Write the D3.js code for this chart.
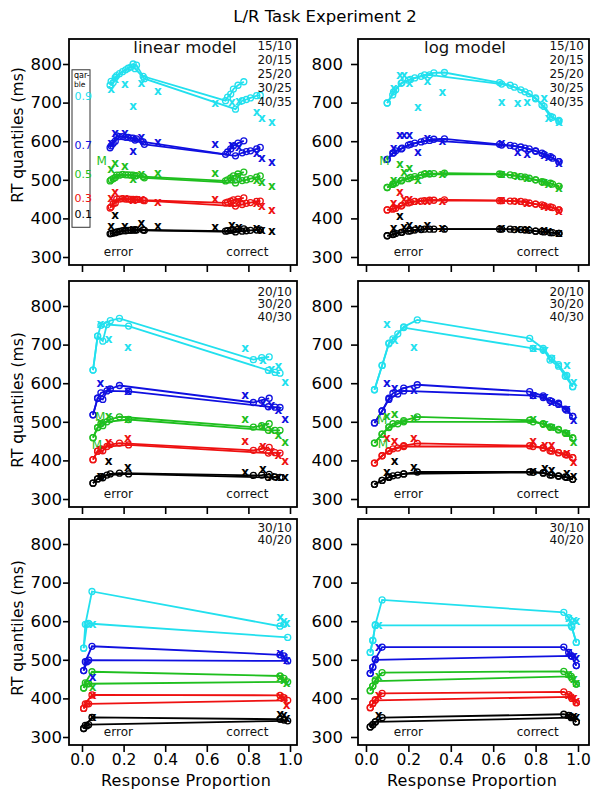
<!DOCTYPE html>
<html><head><meta charset="utf-8">
<script src="https://cdn.jsdelivr.net/npm/d3@7"></script>
<style>body{margin:0;background:#fff} svg{display:block}</style>
</head><body><svg id="c" width="602" height="796"></svg>
<script>
// ---------- data ----------
const quantiles = ["0.1","0.3","0.5","0.7","0.9"];
const qColors = ["#000000","#ee1111","#1fbf1f","#1010e0","#22e0ee"];
const yTicks = [300,400,500,600,700,800];
const xTicks = [0,0.2,0.4,0.6,0.8,1.0];
const modelNames = ["linear model","log model"];
const rowConditions = [["15/10","20/15","25/20","30/25","40/35"],["20/10","30/20","40/30"],["30/10","40/20"]];
const legendRT = [411, 453, 515, 590, 717];

// Row 1, linear model: model lines (p) and RT [line][quantile][point]
const r1LinP = [
  [0.135,0.15,0.167,0.195,0.222,0.246,0.262,0.294,0.69,0.70,0.715,0.728,0.75,0.778],
  [0.14,0.16,0.18,0.21,0.235,0.255,0.30,0.738,0.77,0.79,0.81,0.84,0.857]];
const r1LinRT = [
  [[360,362,365,368,369,370,370,370,367,368,369,370,372,373],
   [427,438,450,451,450,449,449,447,440,442,445,448,450,453],
   [497,503,512,514,513,512,511,508,497,500,505,510,515,520],
   [583,595,614,612,610,608,606,598,566,572,580,588,595,601],
   [745,752,770,780,789,800,797,768,705,714,722,735,745,754]],
  [[361,363,366,368,369,370,369,365,367,368,369,370,370],
   [430,440,450,450,449,448,446,432,436,439,441,444,445],
   [500,506,512,513,512,510,505,492,498,500,503,507,510],
   [588,600,612,610,608,603,592,562,570,573,575,580,584],
   [755,765,775,785,792,788,762,683,705,708,712,718,719]]];
const r1LinDataP = [0.14,0.159,0.206,0.246,0.286,0.365,0.64,0.72,0.754,0.84,0.865,0.913];
const r1LinDataRT = [
  [380,410,380,372,387,380,378,384,378,374,371,367],
  [453,468,453,448,450,442,449,440,445,440,433,421],
  [527,544,536,501,515,517,517,505,510,500,494,484],
  [596,621,621,575,610,598,594,590,585,570,557,546],
  [735,761,748,690,752,729,700,702,705,676,659,650]];
const r1LinMP = [0.095], r1LinMRT = [549];

// Row 1, log model
const r1LogP = [
  [0.10,0.126,0.14,0.166,0.20,0.23,0.276,0.32,0.37,0.63,0.68,0.73,0.77,0.80,0.83,0.87,0.91],
  [0.10,0.13,0.17,0.21,0.26,0.30,0.64,0.70,0.75,0.80,0.84,0.88,0.91]];
const r1LogRT = [
  [[355,358,361,364,367,370,372,372,372,372,372,371,369,367,366,363,361],
   [422,424,426,432,440,444,446,447,448,446,445,444,440,437,435,430,422],
   [480,488,492,497,503,508,515,516,517,515,513,508,504,500,495,491,483],
   [553,569,575,580,590,595,601,605,606,592,589,585,580,575,569,560,547],
   [699,720,733,750,758,764,772,777,778,752,745,733,723,712,694,664,651]],
  [[355,359,364,368,371,372,372,371,370,367,365,363,361],
   [422,426,434,442,445,447,446,445,442,437,433,428,422],
   [480,490,499,506,512,515,514,511,507,500,494,489,483],
   [553,570,582,592,598,602,590,587,582,574,566,556,547],
   [699,728,752,760,768,772,748,740,728,710,690,662,654]]];
const r1LogDataP = [0.13,0.16,0.18,0.205,0.245,0.29,0.36,0.64,0.715,0.76,0.84,0.86,0.91];
const r1LogDataRT = [
  [374,406,378,383,375,383,375,376,373,372,370,368,362],
  [440,468,449,451,445,446,445,447,445,440,433,430,420],
  [500,540,521,530,500,517,515,515,510,505,495,490,480],
  [582,615,615,615,572,608,601,595,573,566,565,560,543],
  [738,772,772,751,688,755,727,701,699,701,713,660,649]];
const r1LogMP = [0.087], r1LogMRT = [549];

// Row 2, linear model
const r2LinP = [
  [0.053,0.075,0.091,0.136,0.18,0.824,0.864,0.90],
  [0.053,0.075,0.10,0.12,0.224,0.896,0.928,0.952]];
const r2LinRT = [
  [[341,352,358,365,367,361,362,364],
   [402,424,430,441,445,426,430,434],
   [459,485,495,506,513,486,490,495],
   [518,561,575,585,594,550,556,561],
   [634,722,750,762,768,661,666,668]],
  [[341,352,355,362,365,356,357,356],
   [402,424,425,436,440,419,420,419],
   [459,485,490,500,506,478,478,478],
   [518,561,558,580,579,539,538,537],
   [634,722,709,752,748,633,628,626]]];
const r2LinDataP = [0.088,0.128,0.22,0.784,0.87,0.91,0.944,0.976];
const r2LinDataRT = [
  [360,398,382,371,378,360,358,356],
  [430,448,459,450,437,425,415,398],
  [500,515,506,506,490,480,467,447],
  [601,585,579,570,550,544,530,506],
  [753,715,694,691,661,637,644,604]];
const r2LinMP = [0.088,0.072], r2LinMRT = [515,440];

// Row 2, log model
const r2LogP = [
  [0.04,0.076,0.108,0.127,0.178,0.242,0.772,0.836,0.868,0.908,0.94,0.975],
  [0.04,0.076,0.108,0.15,0.178,0.788,0.836,0.876,0.908,0.947,0.975]];
const r2LogRT = [
  [[338,348,357,360,365,370,370,368,362,360,357,351],
   [393,412,425,430,438,444,438,433,425,420,415,407],
   [445,468,487,495,503,513,504,495,487,480,471,458],
   [497,528,561,574,587,596,578,567,555,548,533,514],
   [583,646,704,715,746,764,716,690,660,644,618,591]],
  [[338,348,356,362,365,369,367,362,359,356,351],
   [393,412,424,432,436,436,432,424,420,414,407],
   [445,468,485,495,500,500,494,486,479,470,458],
   [497,528,558,572,580,568,563,553,545,530,514],
   [583,646,702,728,744,690,686,665,648,620,591]]];
const r2LogDataP = [0.099,0.135,0.226,0.788,0.844,0.876,0.947,0.979];
const r2LogDataRT = [
  [370,398,384,372,380,375,368,359],
  [458,449,459,449,440,440,418,397],
  [514,521,510,506,495,487,470,447],
  [600,587,583,570,565,552,533,505],
  [753,712,693,690,686,665,647,604]];
const r2LogMP = [0.076,0.08], r2LogMRT = [505,443];

// Row 3, linear model
const r3LinP = [
  [0.008,0.016,0.048,0.952,0.971],
  [0.008,0.024,0.032,0.989]];
const r3LinRT = [
  [[322,330,351,346,344],
   [374,386,409,408,402],
   [427,440,469,458,452],
   [472,495,535,513,510],
   [530,592,677,587,592]],
  [[322,329,332,342],
   [374,386,386,395],
   [427,438,438,443],
   [472,495,499,497],
   [530,592,594,558]]];
const r3LinDataP = [0.051,0.952,0.971,0.984];
const r3LinDataRT = [
  [353,360,356,350],
  [408,405,400,383],
  [430,455,448,440],
  [456,517,508,500],
  [593,611,600,596]];

// Row 3, log model
const r3LogP = [
  [0.02,0.032,0.044,0.076,0.933,0.956,0.971,0.992],
  [0.02,0.032,0.044,0.968,0.992]];
const r3LogRT = [
  [[326,332,339,350,359,356,352,339],
   [376,387,397,413,417,410,400,389],
   [420,432,448,467,470,461,452,437],
   [465,481,502,533,533,519,510,485],
   [519,550,591,655,623,609,585,545]],
  [[326,332,339,350,339],
   [376,387,395,404,389],
   [420,432,445,457,437],
   [465,481,500,510,485],
   [519,550,589,589,545]]];
const r3LogDataP = [0.06,0.956,0.98,0.992];
const r3LogDataRT = [
  [357,358,355,352],
  [409,410,402,392],
  [458,462,450,440],
  [533,520,510,505],
  [590,607,603,600]];

// ---------- layout ----------
const panels = [
  {row:0,col:0,P:r1LinP,RT:r1LinRT,DP:r1LinDataP,DRT:r1LinDataRT,MP:r1LinMP,MRT:r1LinMRT},
  {row:0,col:1,P:r1LogP,RT:r1LogRT,DP:r1LogDataP,DRT:r1LogDataRT,MP:r1LogMP,MRT:r1LogMRT},
  {row:1,col:0,P:r2LinP,RT:r2LinRT,DP:r2LinDataP,DRT:r2LinDataRT,MP:r2LinMP,MRT:r2LinMRT},
  {row:1,col:1,P:r2LogP,RT:r2LogRT,DP:r2LogDataP,DRT:r2LogDataRT,MP:r2LogMP,MRT:r2LogMRT},
  {row:2,col:0,P:r3LinP,RT:r3LinRT,DP:r3LinDataP,DRT:r3LinDataRT,MP:[],MRT:[]},
  {row:2,col:1,P:r3LogP,RT:r3LogRT,DP:r3LogDataP,DRT:r3LogDataRT,MP:[],MRT:[]}
];
const rowTop = [39, 281, 519];
const PH = 226;
const colFrame = [[69, 297], [358, 589]];
const colRange = [[82, 290], [366, 578]];
const condStart = [6, 10, 8], condStep = [14, 12.7, 12.7];
const ecP = [[0.175, 0.795], [0.2, 0.81]];
const FONT = "DejaVu Sans, Verdana, sans-serif";

const svg = d3.select("#c");
svg.append("rect").attr("width",602).attr("height",796).attr("fill","#fff");

svg.append("text").attr("x",325).attr("y",22).attr("text-anchor","middle")
  .attr("font-family",FONT).attr("font-size",16.5).text("L/R Task Experiment 2");

const yLabelC = [135, 400, 628];

panels.forEach((pn, idx) => {
  const t = rowTop[pn.row];
  const [fl, fr] = colFrame[pn.col];
  const x = d3.scaleLinear().domain([0,1]).range(colRange[pn.col]);
  const y = d3.scaleLinear().domain([300,800]).range([t+218, t+25]);
  const g = svg.append("g");

  const clipId = "clip"+idx;
  svg.append("clipPath").attr("id",clipId).append("rect")
    .attr("x",fl).attr("y",t).attr("width",fr-fl).attr("height",PH);

  // y axis
  const ya = g.append("g").attr("transform",`translate(${fl},0)`)
    .call(d3.axisLeft(y).tickValues(yTicks).tickSize(pn.col ? 7 : 6).tickPadding(pn.col ? 8 : 1).tickFormat(d3.format("d")));
  ya.select(".domain").remove();
  ya.selectAll("line").attr("stroke","#000").attr("stroke-width",1.6);
  ya.selectAll("text").attr("font-family",FONT).attr("font-size",16.5).attr("fill","#000");

  // x axis
  const xa = g.append("g").attr("transform",`translate(0,${t+PH})`)
    .call(d3.axisBottom(x).tickValues(xTicks).tickSize(7).tickPadding(2)
      .tickFormat(pn.row === 2 ? d3.format(".1f") : () => ""));
  xa.select(".domain").remove();
  xa.selectAll("line").attr("stroke","#000").attr("stroke-width",1.6);
  xa.selectAll("text").attr("font-family",FONT).attr("font-size",15.5).attr("fill","#000");

  // content
  const c = g.append("g").attr("clip-path",`url(#${clipId})`);
  quantiles.forEach((q, qi) => {
    pn.P.forEach((ps, li) => {
      const pts = ps.map((p, i) => [p, pn.RT[li][qi][i]]);
      c.append("path").datum(pts)
        .attr("d", d3.line().x(d => x(d[0])).y(d => y(d[1])))
        .attr("fill","none").attr("stroke",qColors[qi]).attr("stroke-width",1.8);
      c.selectAll(null).data(pts).enter().append("circle")
        .attr("cx", d => x(d[0])).attr("cy", d => y(d[1])).attr("r",3)
        .attr("fill","none").attr("stroke",qColors[qi]).attr("stroke-width",1.3);
    });
  });
  quantiles.forEach((q, qi) => {
    c.selectAll(null).data(pn.DP.map((p,i) => [p, pn.DRT[qi][i]])).enter().append("text")
      .attr("x", d => x(d[0])).attr("y", d => y(d[1]) + 4)
      .attr("text-anchor","middle").attr("font-family",FONT).attr("font-size",12)
      .attr("font-weight","bold").attr("fill",qColors[qi]).text("x");
  });
  c.selectAll(null).data(pn.MP.map((p,i) => [p, pn.MRT[i]])).enter().append("text")
    .attr("x", d => x(d[0])).attr("y", d => y(d[1]) + 4.5)
    .attr("text-anchor","middle").attr("font-family",FONT).attr("font-size",12)
    .attr("fill",qColors[2]).text("M");

  // frame
  g.append("rect").attr("x",fl).attr("y",t).attr("width",fr-fl).attr("height",PH)
    .attr("fill","none").attr("stroke","#000").attr("stroke-width",1.8);

  // condition labels
  rowConditions[pn.row].forEach((s, i) => {
    g.append("text").attr("x", fr-5).attr("y", t + condStart[pn.row] + i*condStep[pn.row] + 4.5)
      .attr("text-anchor","end").attr("font-family",FONT).attr("font-size",12)
      .attr("fill","#111").text(s);
  });

  // error / correct
  ["error","correct"].forEach((s, i) => {
    g.append("text").attr("x", x(ecP[pn.col][i])).attr("y", t + 217)
      .attr("text-anchor","middle").attr("font-family",FONT).attr("font-size",12)
      .attr("fill","#111").text(s);
  });

  // model name
  if (pn.row === 0) {
    g.append("text").attr("x", pn.col ? 465 : 185).attr("y", t + 14)
      .attr("text-anchor","middle").attr("font-family",FONT).attr("font-size",16.5)
      .attr("fill","#111").text(modelNames[pn.col]);
  }

  // y label
  if (pn.col === 0) {
    svg.append("text").attr("transform",`translate(23,${yLabelC[pn.row]}) rotate(-90)`)
      .attr("text-anchor","middle").attr("font-family",FONT).attr("font-size",15.5)
      .text("RT quantiles (ms)");
  }
  // x label
  if (pn.row === 2) {
    svg.append("text").attr("x", (x(0)+x(1))/2).attr("y", 786)
      .attr("text-anchor","middle").attr("font-family",FONT).attr("font-size",16)
      .attr("letter-spacing",0.3).text("Response Proportion");
  }

  // legend (top-left panel)
  if (pn.row === 0 && pn.col === 0) {
    g.append("rect").attr("x",72).attr("y",y(785)).attr("width",18).attr("height",y(377)-y(785))
      .attr("fill","#fff").attr("stroke","#333").attr("stroke-width",1);
    g.append("text").attr("x",74).attr("y",y(785)+8).attr("font-family",FONT).attr("font-size",8).text("qar-");
    g.append("text").attr("x",74).attr("y",y(785)+17).attr("font-family",FONT).attr("font-size",7.5).text("ble");
    quantiles.forEach((q, qi) => {
      g.append("text").attr("x",74.5).attr("y",y(legendRT[qi])+4)
        .attr("font-family",FONT).attr("font-size",11).attr("fill",qColors[qi]).text(q);
    });
  }
});
</script></body></html>
